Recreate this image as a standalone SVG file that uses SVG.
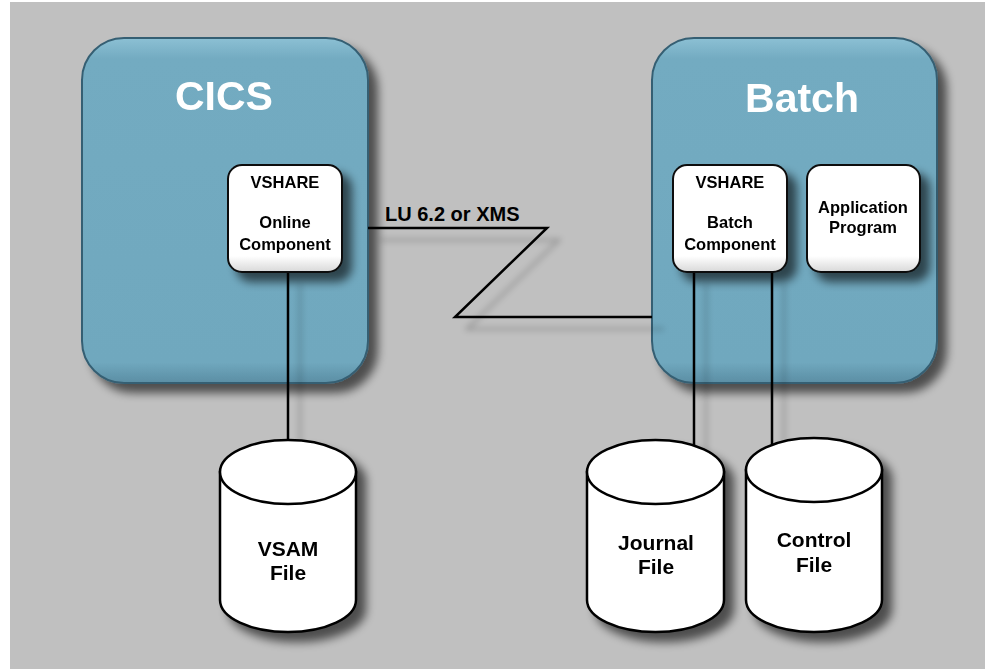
<svg xmlns="http://www.w3.org/2000/svg" width="985" height="669" viewBox="0 0 985 669">
<defs>
  <filter id="sh" x="-20%" y="-20%" width="150%" height="150%">
    <feGaussianBlur in="SourceAlpha" stdDeviation="5"/>
    <feOffset dx="9" dy="9" result="b"/>
    <feComponentTransfer><feFuncA type="linear" slope="0.6"/></feComponentTransfer>
    <feMerge><feMergeNode/><feMergeNode in="SourceGraphic"/></feMerge>
  </filter>
  <filter id="lsh" x="-20%" y="-20%" width="150%" height="150%">
    <feGaussianBlur in="SourceAlpha" stdDeviation="3"/>
    <feOffset dx="12" dy="12" result="b"/>
    <feComponentTransfer><feFuncA type="linear" slope="0.25"/></feComponentTransfer>
    <feMerge><feMergeNode/><feMergeNode in="SourceGraphic"/></feMerge>
  </filter>
  <linearGradient id="blue" x1="0" y1="0" x2="0" y2="1">
    <stop offset="0" stop-color="#8cc0d4"/>
    <stop offset="0.06" stop-color="#73abc1"/>
    <stop offset="0.94" stop-color="#70a8be"/>
    <stop offset="1" stop-color="#5b8ea4"/>
  </linearGradient>
  <linearGradient id="white" x1="0" y1="0" x2="0" y2="1">
    <stop offset="0" stop-color="#ffffff"/>
    <stop offset="0.85" stop-color="#ffffff"/>
    <stop offset="1" stop-color="#d8d8d8"/>
  </linearGradient>
</defs>
<style>
  .big{fill:url(#blue);stroke:#365f73;stroke-width:2}
  .comp{fill:url(#white);stroke:#111;stroke-width:2}
  .cyl{fill:#fff;stroke:#000;stroke-width:2.5}
  .title{font-family:"Liberation Sans",Arial,sans-serif;font-weight:bold;font-size:41px;fill:#fff;text-anchor:middle}
  .t{font-family:"Liberation Sans",Arial,sans-serif;font-weight:bold;font-size:16.5px;fill:#000;text-anchor:middle}
  .f{font-family:"Liberation Sans",Arial,sans-serif;font-weight:bold;font-size:21px;fill:#000;text-anchor:middle}
  .ln{fill:none;stroke:#000;stroke-width:2.5}
</style>
<rect x="10" y="2" width="975" height="667" fill="#c0c0c0"/>

<g id="cics" filter="url(#sh)">
  <rect class="big" x="82" y="38" width="286" height="345" rx="42" ry="42"/>
  <text class="title" x="224" y="110">CICS</text>
</g>
<g id="batch" filter="url(#sh)">
  <rect class="big" x="652" y="38" width="285" height="345" rx="42" ry="42"/>
  <text class="title" x="802" y="112">Batch</text>
</g>

<g id="connectors" filter="url(#lsh)">
  <polyline class="ln" points="368,228 547,228 455,317 652,317"/>
  <line class="ln" x1="288" y1="272" x2="288" y2="442"/>
  <line class="ln" x1="694" y1="272" x2="694" y2="445"/>
  <line class="ln" x1="772" y1="272" x2="772" y2="445"/>
</g>
<text id="lu-label" x="385" y="221" font-family="Liberation Sans, Arial, sans-serif" font-weight="bold" font-size="20">LU 6.2 or XMS</text>

<g id="online" filter="url(#sh)">
  <rect class="comp" x="228" y="165" width="114" height="107" rx="14" ry="14"/>
  <text class="t" x="285" y="188">VSHARE</text>
  <text class="t" x="285" y="228">Online</text>
  <text class="t" x="285" y="250">Component</text>
</g>
<g id="batchcomp" filter="url(#sh)">
  <rect class="comp" x="673" y="165" width="114" height="107" rx="14" ry="14"/>
  <text class="t" x="730" y="188">VSHARE</text>
  <text class="t" x="730" y="228">Batch</text>
  <text class="t" x="730" y="250">Component</text>
</g>
<g id="app" filter="url(#sh)">
  <rect class="comp" x="807" y="165" width="113" height="107" rx="14" ry="14"/>
  <text class="t" x="863" y="213">Application</text>
  <text class="t" x="863" y="233">Program</text>
</g>

<g id="vsam" filter="url(#sh)">
  <path class="cyl" d="M220,472 V600 A68,32 0 0 0 356,600 V472 Z"/>
  <ellipse class="cyl" cx="288" cy="472" rx="68" ry="32"/>
  <text class="f" x="288" y="556">VSAM</text>
  <text class="f" x="288" y="580">File</text>
</g>
<g id="journal" filter="url(#sh)">
  <path class="cyl" d="M587,472 V600 A68.5,32 0 0 0 724,600 V472 Z"/>
  <ellipse class="cyl" cx="655.5" cy="472" rx="68.5" ry="32"/>
  <text class="f" x="656" y="550">Journal</text>
  <text class="f" x="656" y="574">File</text>
</g>
<g id="control" filter="url(#sh)">
  <path class="cyl" d="M746,470 V600 A68,32 0 0 0 882,600 V470 Z"/>
  <ellipse class="cyl" cx="814" cy="470" rx="68" ry="32"/>
  <text class="f" x="814" y="547">Control</text>
  <text class="f" x="814" y="572">File</text>
</g>
</svg>
